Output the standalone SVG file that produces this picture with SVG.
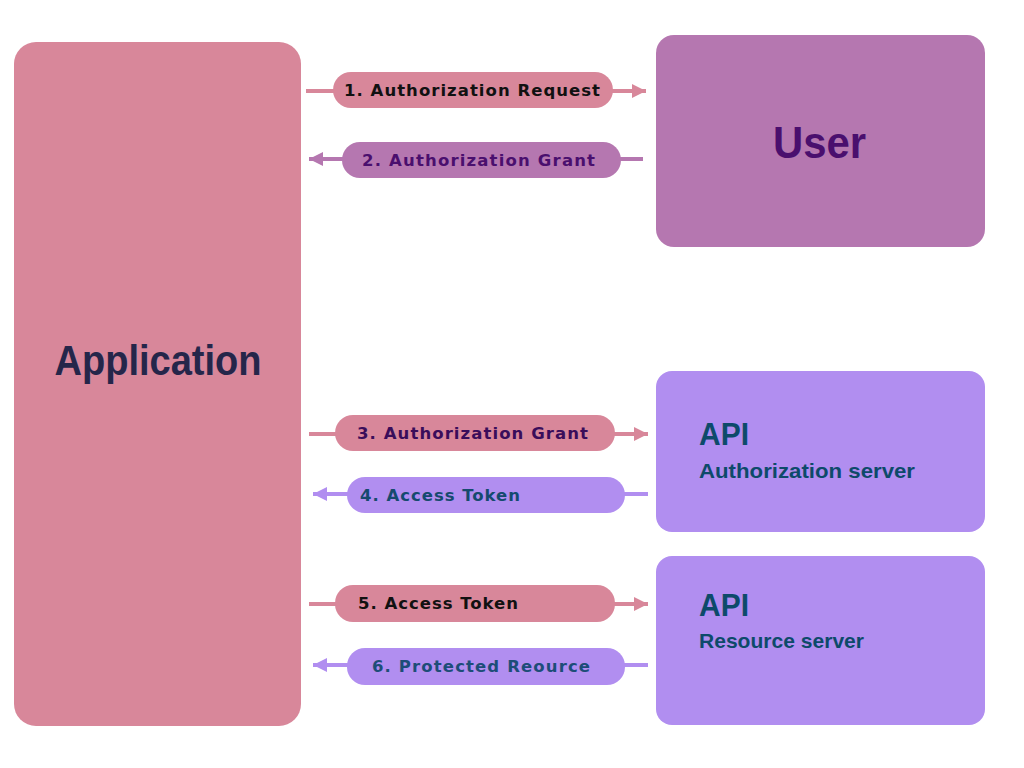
<svg xmlns="http://www.w3.org/2000/svg" width="1024" height="768" viewBox="0 0 1024 768">
<defs>
<style>
.pill text, .node text { font-family: "Liberation Sans", Arial, sans-serif; font-weight: bold; }
.pill text.pl { font-family: "DejaVu Sans", "Liberation Sans", sans-serif; font-size: 16.5px; }
.pink { fill: #d8879a; }
.mauve { fill: #b577b0; }
.lav { fill: #b18ef0; }
.lpink { stroke: #d8879a; stroke-width: 4; fill: none; }
.lmauve { stroke: #b577b0; stroke-width: 4; fill: none; }
.llav { stroke: #b18ef0; stroke-width: 4; fill: none; }
</style>
<marker id="apink" viewBox="0 0 10 10" refX="10" refY="5" markerWidth="3.6" markerHeight="3.8" orient="auto" markerUnits="strokeWidth"><path d="M0,0 L10,5 L0,10 Z" fill="#d8879a"/></marker>
<marker id="amauve" viewBox="0 0 10 10" refX="10" refY="5" markerWidth="3.6" markerHeight="3.8" orient="auto" markerUnits="strokeWidth"><path d="M0,0 L10,5 L0,10 Z" fill="#b577b0"/></marker>
<marker id="alav" viewBox="0 0 10 10" refX="10" refY="5" markerWidth="3.6" markerHeight="3.8" orient="auto" markerUnits="strokeWidth"><path d="M0,0 L10,5 L0,10 Z" fill="#b18ef0"/></marker>
</defs>
<rect width="1024" height="768" fill="#ffffff"/>

<g id="application" class="node">
<rect x="14" y="42" width="287" height="684" rx="22" class="pink"/>
<text x="158" y="375" font-size="42" fill="#25264a" text-anchor="middle" textLength="207" lengthAdjust="spacingAndGlyphs">Application</text>
</g>
<g id="user" class="node">
<rect x="656" y="35" width="329" height="212" rx="18" class="mauve"/>
<text x="819.5" y="158" font-size="45" fill="#4a0f6e" text-anchor="middle" textLength="93" lengthAdjust="spacingAndGlyphs">User</text>
</g>
<g id="auth-server" class="node">
<rect x="656" y="371" width="329" height="161" rx="16" class="lav"/>
<text x="699" y="445" font-size="31" fill="#0d4a6a" textLength="50" lengthAdjust="spacingAndGlyphs">API</text>
<text x="699" y="478" font-size="21" fill="#0d4a6a" textLength="216" lengthAdjust="spacingAndGlyphs">Authorization server</text>
</g>
<g id="resource-server" class="node">
<rect x="656" y="556" width="329" height="169" rx="16" class="lav"/>
<text x="699" y="616" font-size="31" fill="#0d4a6a" textLength="50" lengthAdjust="spacingAndGlyphs">API</text>
<text x="699" y="648" font-size="21" fill="#0d4a6a" textLength="165" lengthAdjust="spacingAndGlyphs">Resource server</text>
</g>

<g id="connectors">
<line x1="306" y1="91" x2="646" y2="91" class="lpink" marker-end="url(#apink)"/>
<line x1="643" y1="159" x2="309" y2="159" class="lmauve" marker-end="url(#amauve)"/>
<line x1="309" y1="434" x2="648" y2="434" class="lpink" marker-end="url(#apink)"/>
<line x1="648" y1="494" x2="313" y2="494" class="llav" marker-end="url(#alav)"/>
<line x1="309" y1="604" x2="648" y2="604" class="lpink" marker-end="url(#apink)"/>
<line x1="648" y1="665" x2="313" y2="665" class="llav" marker-end="url(#alav)"/>

<g class="pill" id="label1">
<rect x="333" y="72" width="280" height="36" rx="18" class="pink"/>
<text x="344" y="96" class="pl" fill="#111111" textLength="256" lengthAdjust="spacing">1. Authorization Request</text>
</g>
<g class="pill" id="label2">
<rect x="342" y="142" width="279" height="36" rx="18" class="mauve"/>
<text x="362" y="166" class="pl" fill="#4a0f6e" textLength="233" lengthAdjust="spacing">2. Authorization Grant</text>
</g>
<g class="pill" id="label3">
<rect x="335" y="415" width="280" height="36" rx="18" class="pink"/>
<text x="357" y="439" class="pl" fill="#3a0d5a" textLength="231" lengthAdjust="spacing">3. Authorization Grant</text>
</g>
<g class="pill" id="label4">
<rect x="347" y="477" width="278" height="36" rx="18" class="lav"/>
<text x="360" y="501" class="pl" fill="#154a6e" textLength="160" lengthAdjust="spacing">4. Access Token</text>
</g>
<g class="pill" id="label5">
<rect x="335" y="585" width="280" height="37" rx="18" class="pink"/>
<text x="358" y="609" class="pl" fill="#111111" textLength="160" lengthAdjust="spacing">5. Access Token</text>
</g>
<g class="pill" id="label6">
<rect x="347" y="648" width="278" height="37" rx="18" class="lav"/>
<text x="372" y="672" class="pl" fill="#1d4d78" textLength="218" lengthAdjust="spacing">6. Protected Reource</text>
</g>
</g>
</svg>
